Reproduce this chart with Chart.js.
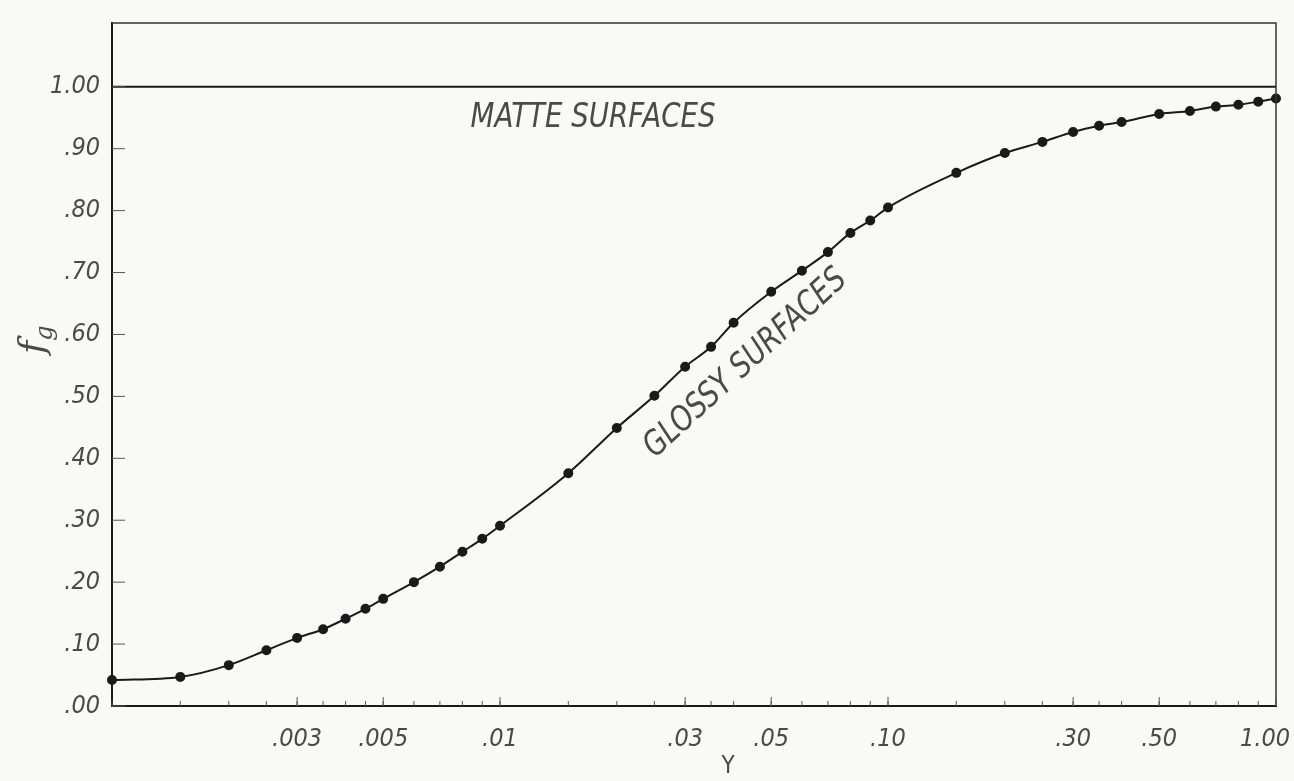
<!DOCTYPE html>
<html>
<head>
<meta charset="utf-8">
<title>Glossy vs matte surfaces</title>
<script src="https://cdn.jsdelivr.net/npm/chart.js@4/dist/chart.umd.min.js"></script>
<style>
    html, body { margin: 0; padding: 0; background: #f9f9f8; }
    .wrap { width: 1294px; height: 781px; }
</style>
</head>
<body>
<div class="wrap"><canvas id="fgChart"></canvas></div>
<script>
// valeurs (Y en échelle log)
const xValues = [0.001, 0.0015, 0.002, 0.0025, 0.003, 0.0035, 0.004, 0.0045, 0.005, 0.006,
    0.007, 0.008, 0.009, 0.01, 0.015, 0.02, 0.025, 0.03, 0.035, 0.04,
    0.05, 0.06, 0.07, 0.08, 0.09, 0.10, 0.15, 0.20, 0.25, 0.30,
    0.35, 0.40, 0.50, 0.60, 0.70, 0.80, 0.90, 1.00];
const fgValues = [0.042, 0.047, 0.066, 0.090, 0.110, 0.124, 0.141, 0.157, 0.173, 0.200,
    0.225, 0.249, 0.270, 0.291, 0.376, 0.449, 0.501, 0.548, 0.580, 0.619,
    0.669, 0.703, 0.733, 0.764, 0.784, 0.805, 0.861, 0.893, 0.911, 0.927,
    0.937, 0.943, 0.956, 0.961, 0.968, 0.971, 0.976, 0.981];

// surfaces mates : fg = 1 partout
const matteX = [0.001, 1.00];
const matteY = [1.00, 1.00];

// graduations
const xTickValues = [0.003, 0.005, 0.01, 0.03, 0.05, 0.10, 0.30, 0.50, 1.00];
const xTickLabels = ['.003', '.005', '.01', '.03', '.05', '.10', '.30', '.50', '1.00'];
const yTickValues = [0, 0.1, 0.2, 0.3, 0.4, 0.5, 0.6, 0.7, 0.8, 0.9, 1.0];
const yTickLabels = ['.00', '.10', '.20', '.30', '.40', '.50', '.60', '.70', '.80', '.90', '1.00'];

const labelMatte = 'MATTE SURFACES';
const labelGlossy = 'GLOSSY SURFACES';

const ink = '#1a1a1a';
const grey = '#4a4a4a';
const fontFam = "'DejaVu Sans Condensed', 'DejaVu Sans', sans-serif";
const tickFont = { family: fontFam, size: 25, style: 'italic' };

// texte étroit, façon lettrage à la main
function narrowText(ctx, txt, x, y, angle, size, width, align) {
    ctx.save();
    ctx.translate(x, y);
    ctx.rotate(angle);
    ctx.font = "italic " + size + "px " + fontFam;
    const w = ctx.measureText(txt).width;
    const sx = width / w;
    ctx.scale(sx, 1);
    ctx.textAlign = align || 'left';
    ctx.textBaseline = 'middle';
    ctx.fillStyle = grey;
    ctx.fillText(txt, 0, 0);
    ctx.restore();
}

const decorPlugin = {
    id: 'decor',
    beforeDraw(chart) {
        const ctx = chart.ctx;
        ctx.save();
        ctx.fillStyle = '#f9f9f8';
        ctx.fillRect(0, 0, chart.width, chart.height);
        ctx.restore();
    },
    afterDraw(chart) {
        const ctx = chart.ctx;
        const a = chart.chartArea;
        const xs = chart.scales.x;
        const ys = chart.scales.y;
        ctx.save();
        // cadre haut et droite
        ctx.strokeStyle = '#333';
        ctx.lineWidth = 1.5;
        ctx.beginPath();
        ctx.moveTo(a.left, a.top);
        ctx.lineTo(a.right, a.top);
        ctx.lineTo(a.right, a.bottom);
        ctx.stroke();
        // petites graduations vers l'intérieur
        ctx.strokeStyle = '#555';
        ctx.lineWidth = 1;
        yTickValues.forEach(v => {
            const py = ys.getPixelForValue(v);
            ctx.beginPath();
            ctx.moveTo(a.left, py);
            ctx.lineTo(a.left + 13, py);
            ctx.stroke();
        });
        xValues.forEach(v => {
            const px = xs.getPixelForValue(v);
            ctx.beginPath();
            ctx.moveTo(px, a.bottom);
            ctx.lineTo(px, a.bottom - 5);
            ctx.stroke();
        });
        xTickValues.forEach(v => {
            const px = xs.getPixelForValue(v);
            ctx.beginPath();
            ctx.moveTo(px, a.bottom);
            ctx.lineTo(px, a.bottom - 9);
            ctx.stroke();
        });

        // libellés de l'axe horizontal (le dernier reste dans la page)
        ctx.font = "italic 25px " + fontFam;
        ctx.fillStyle = grey;
        ctx.textAlign = 'center';
        ctx.textBaseline = 'middle';
        xTickValues.forEach((v, i) => {
            const w = ctx.measureText(xTickLabels[i]).width;
            const px = Math.min(xs.getPixelForValue(v), chart.width - w / 2 - 4);
            ctx.fillText(xTickLabels[i], px, a.bottom + 33);
        });

        // annotations
        narrowText(ctx, labelMatte, xs.getPixelForValue(0.0084), ys.getPixelForValue(0.95), 0, 34, 245, 'left');
        narrowText(ctx, labelGlossy, xs.getPixelForValue(0.043), ys.getPixelForValue(0.553), -0.74, 34, 262, 'center');

        // titre axe vertical : f indice g
        ctx.save();
        ctx.translate(44, 354);
        ctx.rotate(-Math.PI / 2);
        ctx.fillStyle = grey;
        ctx.textAlign = 'left';
        ctx.textBaseline = 'alphabetic';
        ctx.font = "italic 36px 'DejaVu Serif', serif";
        ctx.fillText('f', 0, 0);
        const fw = ctx.measureText('f').width;
        ctx.font = "italic 24px 'DejaVu Serif', serif";
        ctx.fillText('g', fw, 8);
        ctx.restore();

        // titre axe horizontal
        ctx.fillStyle = grey;
        ctx.font = "24px " + fontFam;
        ctx.textAlign = 'center';
        ctx.textBaseline = 'middle';
        ctx.fillText('Y', 728, 767);
        ctx.restore();
    }
};

new Chart(document.getElementById('fgChart'), {
    type: 'line',
    data: {
        datasets: [
            {
                label: 'Glossy',
                data: xValues.map((x, i) => ({ x: x, y: fgValues[i] })),
                borderColor: ink,
                backgroundColor: ink,
                borderWidth: 2,
                pointRadius: 4,
                pointHoverRadius: 4,
                cubicInterpolationMode: 'monotone',
                clip: false
            },
            {
                label: 'Matte',
                data: matteX.map((x, i) => ({ x: x, y: matteY[i] })),
                borderColor: ink,
                borderWidth: 2,
                pointRadius: 0
            }
        ]
    },
    options: {
        responsive: true,
        maintainAspectRatio: false,
        animation: false,
        events: [],
        layout: { padding: { top: 23, right: 18, left: 0, bottom: 0 } },
        plugins: {
            legend: { display: false },
            tooltip: { enabled: false }
        },
        scales: {
            x: {
                type: 'logarithmic',
                min: 0.001,
                max: 1,
                afterBuildTicks: s => { s.ticks = xTickValues.map(v => ({ value: v })); },
                afterFit: s => { s.height = 75; s.paddingLeft = 0; s.paddingRight = 0; },
                grid: { display: false },
                border: { display: true, color: ink, width: 2 },
                ticks: { display: false }
            },
            y: {
                type: 'linear',
                min: 0,
                max: 1.103,
                afterBuildTicks: s => { s.ticks = yTickValues.map(v => ({ value: v })); },
                afterFit: s => { s.width = 112; s.paddingTop = 0; s.paddingBottom = 0; },
                grid: { display: false },
                border: { display: true, color: ink, width: 2 },
                ticks: {
                    padding: 4,
                    color: grey,
                    font: tickFont,
                    callback: (v, i) => yTickLabels[i]
                }
            }
        }
    },
    plugins: [decorPlugin]
});
</script>
</body>
</html>
